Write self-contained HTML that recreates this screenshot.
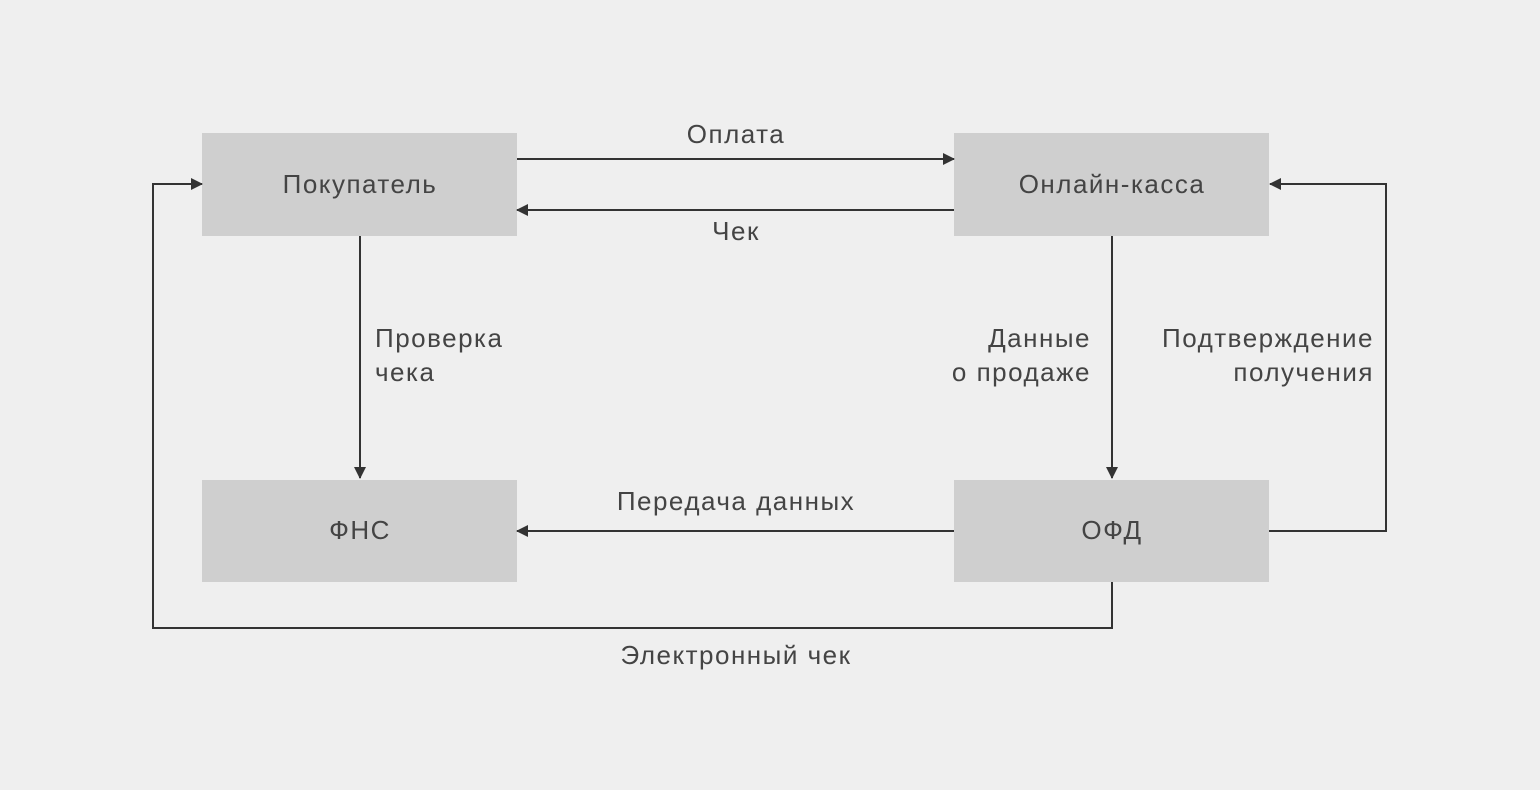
<!DOCTYPE html>
<html><head><meta charset="utf-8"><style>
html,body{margin:0;padding:0;background:#efefef;}
svg{display:block;}
text{font-family:"Liberation Sans","DejaVu Sans",sans-serif;font-size:26px;letter-spacing:1.5px;fill:#444;}
</style></head><body>
<svg width="1540" height="790" viewBox="0 0 1540 790" xmlns="http://www.w3.org/2000/svg">
<defs>
<marker id="a" markerWidth="12" markerHeight="12" refX="11" refY="6" orient="auto" markerUnits="userSpaceOnUse">
<path d="M0,0 L12,6 L0,12 z" fill="#333"/>
</marker>
</defs>
<rect x="0" y="0" width="1540" height="790" fill="#efefef"/>
<g fill="#cfcfcf">
<rect x="202" y="133" width="315" height="103"/>
<rect x="954" y="133" width="315" height="103"/>
<rect x="202" y="480" width="315" height="102"/>
<rect x="954" y="480" width="315" height="102"/>
</g>
<g stroke="#333" stroke-width="2" fill="none">
<line x1="517" y1="159" x2="954" y2="159" marker-end="url(#a)"/>
<line x1="954" y1="210" x2="517" y2="210" marker-end="url(#a)"/>
<line x1="360" y1="236" x2="360" y2="478" marker-end="url(#a)"/>
<line x1="1112" y1="236" x2="1112" y2="478" marker-end="url(#a)"/>
<line x1="954" y1="531" x2="517" y2="531" marker-end="url(#a)"/>
<polyline points="1269,531 1386,531 1386,184 1270,184" marker-end="url(#a)"/>
<polyline points="1112,582 1112,628 153,628 153,184 202,184" marker-end="url(#a)"/>
</g>
<g text-anchor="middle">
<text x="360" y="193">Покупатель</text>
<text x="1112" y="193">Онлайн-касса</text>
<text x="360" y="539">ФНС</text>
<text x="1112" y="539">ОФД</text>
<text x="736" y="143">Оплата</text>
<text x="736" y="240">Чек</text>
<text x="736" y="510">Передача данных</text>
<text x="736" y="664">Электронный чек</text>
</g>
<text x="375" y="347">Проверка</text>
<text x="375" y="381">чека</text>
<g text-anchor="end">
<text x="1091" y="347">Данные</text>
<text x="1091" y="381">о продаже</text>
<text x="1374" y="347">Подтверждение</text>
<text x="1374" y="381">получения</text>
</g>
</svg>
</body></html>
